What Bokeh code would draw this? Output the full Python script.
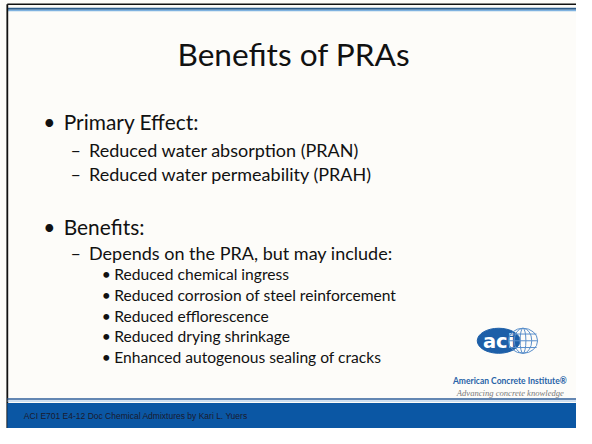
from bokeh.plotting import figure
from bokeh.models import Range1d
from bokeh.core.properties import value
from bokeh.embed import file_html
from bokeh.resources import INLINE

# ---- slide content ----
title = "Benefits of PRAs"
level1 = ["Primary Effect:", "Benefits:"]
level2 = ["Reduced water absorption (PRAN)", "Reduced water permeability (PRAH)",
          "Depends on the PRA, but may include:"]
level3 = ["Reduced chemical ingress", "Reduced corrosion of steel reinforcement",
          "Reduced efflorescence", "Reduced drying shrinkage",
          "Enhanced autogenous sealing of cracks"]
footer = "ACI  E701 E4-12 Doc  Chemical Admixtures by Kari L. Yuers"
logo_name = "American Concrete Institute\u00ae"
logo_tag = "Advancing concrete knowledge"

# ---- layout (slide pixel coordinates, slide is 592 x 444) ----
SW, SH = 592, 444
l1_y = [125.5, 234]
l2_y = [155, 180, 262]
l3_y = [284, 305.5, 327, 348.5, 370]

W, H = 576, 428
S = W / SW  # font scale so the whole slide fits the figure


def fs(px):
    return f"{px * S:.1f}px"


p = figure(width=W, height=H, x_range=Range1d(0, SW), y_range=Range1d(SH, 0),
           output_backend="svg", toolbar_location=None, min_border=0, title=None,
           x_axis_location=None, y_axis_location=None)
p.grid.visible = False
p.outline_line_color = None
p.background_fill_color = "#FDFCF9"
p.border_fill_color = "#FFFFFF"

FONT = value("Lato")
INK = "#111111"

# top rules and left border
p.segment(x0=[7], y0=[4], x1=[SW], y1=[4], line_color="#111111", line_width=1.5)
p.segment(x0=[7], y0=[8.5], x1=[SW], y1=[8.5], line_color="#2E5C8A", line_width=2)
p.segment(x0=[7], y0=[10.5], x1=[SW], y1=[10.5], line_color="#7FB2E0", line_width=1.5)
p.segment(x0=[7], y0=[4], x1=[7], y1=[SH], line_color="#111111", line_width=1.8)

# title
p.text(x=[301.5], y=[56], text=[title], text_font=FONT, text_font_size=fs(32.5),
       text_align="center", text_baseline="alphabetic", text_color=INK)

# level 1 bullets
p.text(x=[44] * len(level1), y=l1_y, text=["\u2022"] * len(level1), text_font=FONT,
       text_font_size=fs(21.5), text_baseline="alphabetic", text_color=INK)
p.text(x=[65] * len(level1), y=l1_y, text=level1, text_font=FONT,
       text_font_size=fs(21.5), text_baseline="alphabetic", text_color=INK)

# level 2 dashes
p.text(x=[72] * len(level2), y=l2_y, text=["\u2013"] * len(level2), text_font=FONT,
       text_font_size=fs(18.5), text_baseline="alphabetic", text_color=INK)
p.text(x=[91] * len(level2), y=l2_y, text=level2, text_font=FONT,
       text_font_size=fs(18.5), text_baseline="alphabetic", text_color=INK)

# level 3 bullets
p.text(x=[104] * len(level3), y=l3_y, text=["\u2022"] * len(level3), text_font=FONT,
       text_font_size=fs(16), text_baseline="alphabetic", text_color=INK)
p.text(x=[117] * len(level3), y=l3_y, text=level3, text_font=FONT,
       text_font_size=fs(16), text_baseline="alphabetic", text_color=INK)

# logo: oval + globe
p.ellipse(x=[512], y=[353], width=[44], height=[26], fill_color="#1D5FA8",
          line_color="#1D5FA8")
p.text(x=[512], y=[354], text=["aci"], text_font=value("DejaVu Sans"),
       text_font_style="bold", text_font_size=fs(20), text_align="center",
       text_baseline="middle", text_color="white")
p.ellipse(x=[537, 537, 537], y=[353, 353, 353], width=[30, 18, 6], height=[26, 26, 26],
          fill_color=None, line_color="#5A8FCB", line_width=1)
p.segment(x0=[523, 522, 523], y0=[346, 353, 360], x1=[551, 552, 551], y1=[346, 353, 360],
          line_color="#5A8FCB", line_width=1)
p.text(x=[582], y=[395], text=[logo_name], text_font=FONT, text_font_style="bold",
       text_font_size=fs(8.7), text_align="right", text_baseline="alphabetic",
       text_color="#2863A8")
p.text(x=[579], y=[407.5], text=[logo_tag], text_font=value("Liberation Serif"),
       text_font_style="italic", text_font_size=fs(8.8), text_align="right",
       text_baseline="alphabetic", text_color="#7A7A7A")

# bottom band
p.segment(x0=[7], y0=[413.5], x1=[SW], y1=[413.5], line_color="#2F5F9A", line_width=1.5)
p.segment(x0=[7], y0=[415.5], x1=[SW], y1=[415.5], line_color="#9FC2E6", line_width=1)
p.quad(left=[7], right=[SW], top=[417.5], bottom=[SH], fill_color="#0B57A4",
       line_color=None)
p.text(x=[24], y=[431], text=[footer], text_font=value("Liberation Sans"),
       text_font_size=fs(8.7), text_baseline="alphabetic", text_color="#1A1A2E")

open("out.html", "w").write(file_html(p, INLINE))
